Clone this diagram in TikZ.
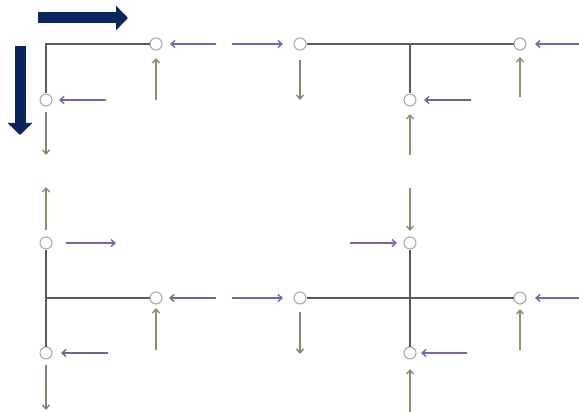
\documentclass[tikz,border=0pt]{standalone}
\usetikzlibrary{arrows.meta}
\definecolor{navy}{HTML}{0B2560}
\definecolor{purp}{HTML}{7E5FB0}
\definecolor{gpurp}{HTML}{6C6A8C}
\definecolor{olive}{HTML}{8C9270}
\definecolor{gdown}{HTML}{858572}
\definecolor{wire}{HTML}{5A5A5A}
\tikzset{
  port/.style={circle,draw=gray!70,fill=white,line width=1pt,minimum size=12pt,inner sep=0pt},
  wireline/.style={draw=wire,line width=1.8pt},
  arr/.style={line width=1.4pt,-{Straight Barb[length=4pt,width=7pt]}},
  parr/.style={arr,purp},
  garr/.style={arr,gpurp},
  oarr/.style={arr,olive},
  darr/.style={arr,gdown},
  bigarr/.style={navy,line width=11pt,-{Triangle[length=12pt,width=24pt]}}
}
\begin{document}
\begin{tikzpicture}[x=1pt,y=-1pt]
\useasboundingbox (0,0) rectangle (579,412);
% big navy arrows
\coordinate (h1) at (38,18); \coordinate (h2) at (128,18);
\coordinate (v1) at (20,46); \coordinate (v2) at (20,135);
\draw[bigarr] (h1) -- (h2);
\draw[bigarr] (v1) -- (v2);
% ---------- top-left ----------
\coordinate (c1) at (46,44);
\node[port] (a1) at (156,44) {};
\node[port] (a2) at (46,100) {};
\draw[wireline] (a2) -- (c1) -- (a1);
\coordinate (a1p) at (216,44); \coordinate (a1q) at (170,44);
\draw[parr] (a1p) -- (a1q);
\coordinate (a1u) at (156,100); \coordinate (a1v) at (156,58);
\draw[oarr] (a1u) -- (a1v);
\coordinate (a2p) at (106,100); \coordinate (a2q) at (59,100);
\draw[parr] (a2p) -- (a2q);
\coordinate (a2d) at (46,155);
\draw[darr] (a2) ++(0,12) -- (a2d);
% ---------- top-middle/right ----------
\node[port] (b1) at (300,44) {};
\node[port] (b2) at (520,44) {};
\node[port] (b3) at (410,100) {};
\coordinate (bj) at (410,44);
\draw[wireline] (b1) -- (b2);
\draw[wireline] (bj) -- (b3);
\coordinate (b1p) at (232,44); \coordinate (b1q) at (283,44);
\draw[parr] (b1p) -- (b1q);
\coordinate (b1d) at (300,100);
\draw[darr] (b1) ++(0,16) -- (b1d);
\coordinate (b2p) at (579,44); \coordinate (b2q) at (535,44);
\draw[parr] (b2p) -- (b2q);
\coordinate (b2u) at (520,97); \coordinate (b2v) at (520,57);
\draw[oarr] (b2u) -- (b2v);
\coordinate (b3p) at (471,100); \coordinate (b3q) at (424,100);
\draw[garr] (b3p) -- (b3q);
\coordinate (b3u) at (410,155); \coordinate (b3v) at (410,114);
\draw[oarr] (b3u) -- (b3v);
% ---------- bottom-left ----------
\node[port] (d1) at (46,243) {};
\node[port] (d2) at (46,353) {};
\node[port] (d3) at (156,298) {};
\coordinate (dj) at (46,298);
\draw[wireline] (d1) -- (d2);
\draw[wireline] (dj) -- (d3);
\coordinate (d1u) at (46,230); \coordinate (d1v) at (46,187);
\draw[oarr] (d1u) -- (d1v);
\coordinate (d1p) at (66,243); \coordinate (d1q) at (116,243);
\draw[parr] (d1p) -- (d1q);
\coordinate (d3p) at (216,298); \coordinate (d3q) at (169,298);
\draw[garr] (d3p) -- (d3q);
\coordinate (d3u) at (156,350); \coordinate (d3v) at (156,308);
\draw[oarr] (d3u) -- (d3v);
\coordinate (d2p) at (108,353); \coordinate (d2q) at (61,353);
\draw[garr] (d2p) -- (d2q);
\coordinate (d2d) at (46,410);
\draw[darr] (d2) ++(0,12) -- (d2d);
% ---------- bottom-middle/right ----------
\node[port] (e1) at (300,298) {};
\node[port] (e2) at (520,298) {};
\node[port] (e3) at (410,243) {};
\node[port] (e4) at (410,353) {};
\draw[wireline] (e1) -- (e2);
\draw[wireline] (e3) -- (e4);
\coordinate (e1p) at (232,298); \coordinate (e1q) at (283,298);
\draw[parr] (e1p) -- (e1q);
\coordinate (e1d) at (300,354);
\draw[darr] (e1) ++(0,14) -- (e1d);
\coordinate (e3p) at (350,243); \coordinate (e3q) at (397,243);
\draw[parr] (e3p) -- (e3q);
\coordinate (e3u) at (410,188); \coordinate (e3v) at (410,231);
\draw[oarr] (e3u) -- (e3v);
\coordinate (e2p) at (579,298); \coordinate (e2q) at (535,298);
\draw[parr] (e2p) -- (e2q);
\coordinate (e2u) at (520,350); \coordinate (e2v) at (520,309);
\draw[oarr] (e2u) -- (e2v);
\coordinate (e4p) at (467,353); \coordinate (e4q) at (421,353);
\draw[parr] (e4p) -- (e4q);
\coordinate (e4u) at (410,412); \coordinate (e4v) at (410,369);
\draw[oarr] (e4u) -- (e4v);
\end{tikzpicture}
\end{document}
